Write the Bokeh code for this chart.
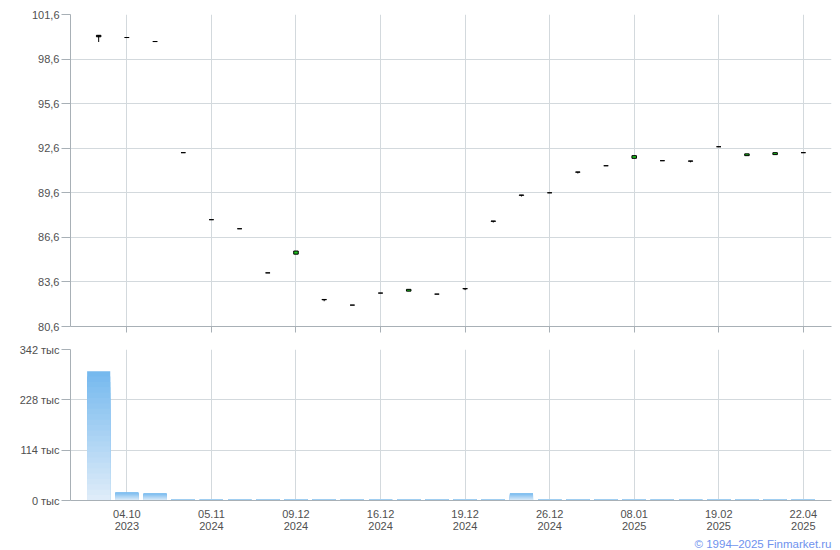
from bokeh.plotting import figure
from bokeh.layouts import column
from bokeh.models import Range1d, FixedTicker, CustomJSTickFormatter, ColumnDataSource, Title
from bokeh.embed import file_html
from bokeh.resources import INLINE

# ---- data ----
opens  = [100.20, 100.05, 99.78, 92.30, 87.79, 87.18, 84.21, 85.47, 82.42, 82.04,
          82.85, 82.98, 82.78, 83.15, 87.70, 89.45, 89.60, 91.00, 91.42, 91.92,
          91.76, 91.74, 92.70, 92.10, 92.17, 92.30]
highs  = [100.20, 100.05, 99.78, 92.30, 87.79, 87.18, 84.21, 85.68, 82.42, 82.04,
          82.85, 83.10, 82.78, 83.15, 87.70, 89.45, 89.60, 91.00, 91.42, 92.10,
          91.76, 91.74, 92.70, 92.22, 92.30, 92.30]
lows   = [99.75, 100.05, 99.78, 92.30, 87.79, 87.18, 84.21, 85.47, 82.30, 82.04,
          82.85, 82.98, 82.78, 83.05, 87.60, 89.35, 89.60, 90.90, 91.42, 91.92,
          91.76, 91.65, 92.70, 92.10, 92.17, 92.30]
closes = [100.10, 100.05, 99.78, 92.30, 87.79, 87.18, 84.21, 85.68, 82.40, 82.04,
          82.85, 83.10, 82.78, 83.14, 87.68, 89.43, 89.60, 90.99, 91.42, 92.10,
          91.76, 91.73, 92.70, 92.22, 92.30, 92.30]
volumes_k = [293, 18.7, 16.4, 3, 3, 3, 3, 3, 3, 3,
             3, 3, 3, 3, 3, 16.4, 3, 3, 3, 3,
             3, 3, 3, 3, 3, 3]
tick_idx = [1, 4, 7, 10, 13, 16, 19, 22, 25]
tick_labels = ["04.10\n2023", "05.11\n2024", "09.12\n2024", "16.12\n2024", "19.12\n2024",
               "26.12\n2024", "08.01\n2025", "19.02\n2025", "22.04\n2025"]
price_ticks = [80.6, 83.6, 86.6, 89.6, 92.6, 95.6, 98.6, 101.6]
volume_ticks = [0, 114, 228, 342]

FONT = "Liberation Sans"
TXT = "#505050"
GRID = "#d3d9dd"
AXIS = "#a8b0b6"

n = len(opens)
xs = list(range(n))

def style(p):
    p.outline_line_color = None
    p.background_fill_color = "white"
    p.border_fill_color = "white"
    for ax in (p.xaxis, p.yaxis):
        ax.axis_line_color = AXIS
        ax.major_tick_line_color = AXIS
        ax.minor_tick_line_color = None
        ax.major_tick_in = 0
        ax.major_label_text_font = FONT
        ax.major_label_text_font_size = "11px"
        ax.major_label_text_color = TXT
    p.xgrid.grid_line_color = GRID
    p.ygrid.grid_line_color = GRID
    p.xaxis.ticker = FixedTicker(ticks=tick_idx)
    p.xgrid.ticker = FixedTicker(ticks=tick_idx)
    p.yaxis.major_tick_out = 9
    p.yaxis.major_label_standoff = 2

# ---- price chart ----
p1 = figure(width=832, height=338, x_range=Range1d(-1, 26), y_range=Range1d(80.6, 101.6),
            output_backend="svg", toolbar_location=None,
            min_border_left=70, min_border_right=1, min_border_top=14, min_border_bottom=12)
style(p1)
p1.yaxis.ticker = FixedTicker(ticks=price_ticks)
p1.ygrid.ticker = FixedTicker(ticks=price_ticks)
p1.yaxis.formatter = CustomJSTickFormatter(code="return tick.toFixed(1).replace('.', ',')")
p1.xaxis.major_tick_out = 6
p1.xaxis.major_label_text_font_size = "0px"
p1.xaxis.major_label_standoff = 0

tops = [max(o, c) for o, c in zip(opens, closes)]
bots = [min(o, c) for o, c in zip(opens, closes)]
fills = ["#1ec81e" if c > o else "#000000" for o, c in zip(opens, closes)]
src = ColumnDataSource(dict(x=xs, h=highs, l=lows, t=tops, b=bots, f=fills))
p1.segment(x0="x", y0="h", x1="x", y1="l", source=src, line_color="black", line_width=1)
p1.vbar(x="x", width=0.16, top="t", bottom="b", fill_color="f", line_color="black",
        line_width=1, source=src)

# ---- volume chart ----
p2 = figure(width=832, height=211, x_range=p1.x_range, y_range=Range1d(0, 342),
            output_backend="svg", toolbar_location=None,
            min_border_left=70, min_border_right=1, min_border_top=11, min_border_bottom=48)
style(p2)
p2.yaxis.ticker = FixedTicker(ticks=volume_ticks)
p2.ygrid.ticker = FixedTicker(ticks=volume_ticks)
p2.yaxis.formatter = CustomJSTickFormatter(code="return tick.toFixed(0) + ' тыс'")
p2.xaxis.major_tick_out = 0
p2.xaxis.major_label_standoff = 7
p2.xaxis.major_label_text_line_height = 1.05
p2.xaxis.major_label_overrides = {i: s for i, s in zip(tick_idx, tick_labels)}

# gradient bars: overlapping slices, darkest (full) first
N = 24
top_rgb = (0x74, 0xb8, 0xee)
bot_rgb = (0xe0, 0xed, 0xf9)
for k in range(N):
    frac = 1 - k / N
    mid = frac - 0.5 / N
    rgb = tuple(int(round(b + (t - b) * mid)) for t, b in zip(top_rgb, bot_rgb))
    col = "#%02x%02x%02x" % rgb
    p2.vbar(x=xs, width=0.82, top=[v * frac for v in volumes_k], bottom=0,
            fill_color=col, line_color=None)

p2.add_layout(Title(text="© 1994–2025 Finmarket.ru", align="right", standoff=0,
                    text_font=FONT, text_font_size="11.5px", text_font_style="normal",
                    text_line_height=1.0, text_color="#6f92ee"), "below")

layout = column(p1, p2)
open("out.html", "w").write(file_html(layout, INLINE))
